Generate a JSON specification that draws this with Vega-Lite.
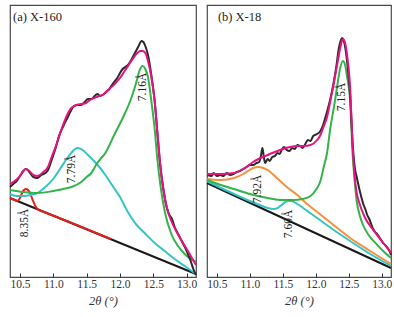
{
  "$schema": "https://vega.github.io/schema/vega-lite/v6.json",
  "padding": {"left": 5, "top": 4, "right": 3, "bottom": 0},
  "bounds": "flush",
  "spacing": 11,
  "datasets": {
    "a": [
      {"s": "baseline", "x": 10.35, "y": 79}, {"s": "baseline", "x": 13.14, "y": 3},
      {"s": "red", "x": 10.35, "y": 79}, {"s": "red", "x": 10.42, "y": 77}, {"s": "red", "x": 10.46, "y": 76}, {"s": "red", "x": 10.5, "y": 79}, {"s": "red", "x": 10.53, "y": 84}, {"s": "red", "x": 10.56, "y": 87}, {"s": "red", "x": 10.59, "y": 88}, {"s": "red", "x": 10.62, "y": 87}, {"s": "red", "x": 10.65, "y": 84}, {"s": "red", "x": 10.69, "y": 77}, {"s": "red", "x": 10.73, "y": 71}, {"s": "red", "x": 10.78, "y": 67}, {"s": "red", "x": 10.82, "y": 66}, {"s": "red", "x": 11.86, "y": 38},
      {"s": "cyan", "x": 10.35, "y": 83}, {"s": "cyan", "x": 10.45, "y": 81}, {"s": "cyan", "x": 10.56, "y": 81}, {"s": "cyan", "x": 10.66, "y": 82}, {"s": "cyan", "x": 10.76, "y": 84}, {"s": "cyan", "x": 10.88, "y": 90}, {"s": "cyan", "x": 11.01, "y": 99}, {"s": "cyan", "x": 11.1, "y": 108}, {"s": "cyan", "x": 11.2, "y": 118}, {"s": "cyan", "x": 11.28, "y": 125}, {"s": "cyan", "x": 11.36, "y": 129}, {"s": "cyan", "x": 11.44, "y": 127}, {"s": "cyan", "x": 11.52, "y": 122}, {"s": "cyan", "x": 11.61, "y": 116}, {"s": "cyan", "x": 11.69, "y": 110}, {"s": "cyan", "x": 11.77, "y": 103}, {"s": "cyan", "x": 11.85, "y": 95}, {"s": "cyan", "x": 11.92, "y": 88}, {"s": "cyan", "x": 12.0, "y": 80}, {"s": "cyan", "x": 12.11, "y": 66}, {"s": "cyan", "x": 12.25, "y": 52}, {"s": "cyan", "x": 12.37, "y": 44}, {"s": "cyan", "x": 12.52, "y": 34}, {"s": "cyan", "x": 12.67, "y": 26}, {"s": "cyan", "x": 12.82, "y": 18}, {"s": "cyan", "x": 12.97, "y": 11}, {"s": "cyan", "x": 13.14, "y": 3},
      {"s": "green", "x": 10.35, "y": 87}, {"s": "green", "x": 10.55, "y": 85}, {"s": "green", "x": 10.76, "y": 84}, {"s": "green", "x": 11.0, "y": 86}, {"s": "green", "x": 11.15, "y": 88}, {"s": "green", "x": 11.27, "y": 90}, {"s": "green", "x": 11.42, "y": 95}, {"s": "green", "x": 11.5, "y": 100}, {"s": "green", "x": 11.57, "y": 104}, {"s": "green", "x": 11.65, "y": 113}, {"s": "green", "x": 11.72, "y": 119}, {"s": "green", "x": 11.77, "y": 123}, {"s": "green", "x": 11.92, "y": 143}, {"s": "green", "x": 12.07, "y": 163}, {"s": "green", "x": 12.17, "y": 179}, {"s": "green", "x": 12.25, "y": 196}, {"s": "green", "x": 12.29, "y": 206}, {"s": "green", "x": 12.34, "y": 211}, {"s": "green", "x": 12.38, "y": 208}, {"s": "green", "x": 12.42, "y": 200}, {"s": "green", "x": 12.47, "y": 176}, {"s": "green", "x": 12.52, "y": 148}, {"s": "green", "x": 12.56, "y": 118}, {"s": "green", "x": 12.61, "y": 90}, {"s": "green", "x": 12.67, "y": 66}, {"s": "green", "x": 12.77, "y": 43}, {"s": "green", "x": 12.87, "y": 31}, {"s": "green", "x": 12.97, "y": 23}, {"s": "green", "x": 13.14, "y": 15},
      {"s": "exp", "x": 10.35, "y": 90}, {"s": "exp", "x": 10.4, "y": 93}, {"s": "exp", "x": 10.45, "y": 96}, {"s": "exp", "x": 10.5, "y": 101}, {"s": "exp", "x": 10.55, "y": 106}, {"s": "exp", "x": 10.59, "y": 108}, {"s": "exp", "x": 10.64, "y": 105}, {"s": "exp", "x": 10.7, "y": 100}, {"s": "exp", "x": 10.76, "y": 99}, {"s": "exp", "x": 10.82, "y": 102}, {"s": "exp", "x": 10.88, "y": 104}, {"s": "exp", "x": 10.92, "y": 107}, {"s": "exp", "x": 10.97, "y": 116}, {"s": "exp", "x": 11.03, "y": 128}, {"s": "exp", "x": 11.09, "y": 142}, {"s": "exp", "x": 11.15, "y": 151}, {"s": "exp", "x": 11.21, "y": 159}, {"s": "exp", "x": 11.27, "y": 167}, {"s": "exp", "x": 11.31, "y": 171}, {"s": "exp", "x": 11.36, "y": 172}, {"s": "exp", "x": 11.42, "y": 172}, {"s": "exp", "x": 11.47, "y": 175}, {"s": "exp", "x": 11.52, "y": 178}, {"s": "exp", "x": 11.57, "y": 178}, {"s": "exp", "x": 11.62, "y": 181}, {"s": "exp", "x": 11.66, "y": 183}, {"s": "exp", "x": 11.7, "y": 181}, {"s": "exp", "x": 11.74, "y": 182}, {"s": "exp", "x": 11.79, "y": 185}, {"s": "exp", "x": 11.84, "y": 188}, {"s": "exp", "x": 11.9, "y": 194}, {"s": "exp", "x": 11.96, "y": 199}, {"s": "exp", "x": 12.0, "y": 204}, {"s": "exp", "x": 12.04, "y": 208}, {"s": "exp", "x": 12.08, "y": 210}, {"s": "exp", "x": 12.12, "y": 212}, {"s": "exp", "x": 12.16, "y": 216}, {"s": "exp", "x": 12.2, "y": 221}, {"s": "exp", "x": 12.24, "y": 226}, {"s": "exp", "x": 12.28, "y": 231}, {"s": "exp", "x": 12.32, "y": 236}, {"s": "exp", "x": 12.35, "y": 235}, {"s": "exp", "x": 12.38, "y": 231}, {"s": "exp", "x": 12.42, "y": 222}, {"s": "exp", "x": 12.47, "y": 202}, {"s": "exp", "x": 12.52, "y": 176}, {"s": "exp", "x": 12.56, "y": 145}, {"s": "exp", "x": 12.6, "y": 114}, {"s": "exp", "x": 12.65, "y": 88}, {"s": "exp", "x": 12.7, "y": 70}, {"s": "exp", "x": 12.74, "y": 62}, {"s": "exp", "x": 12.78, "y": 58}, {"s": "exp", "x": 12.82, "y": 50}, {"s": "exp", "x": 12.88, "y": 42}, {"s": "exp", "x": 12.94, "y": 34}, {"s": "exp", "x": 13.0, "y": 26}, {"s": "exp", "x": 13.06, "y": 16}, {"s": "exp", "x": 13.1, "y": 8}, {"s": "exp", "x": 13.14, "y": 2},
      {"s": "fit", "x": 10.35, "y": 93}, {"s": "fit", "x": 10.42, "y": 96}, {"s": "fit", "x": 10.5, "y": 101}, {"s": "fit", "x": 10.55, "y": 106}, {"s": "fit", "x": 10.59, "y": 108}, {"s": "fit", "x": 10.64, "y": 106}, {"s": "fit", "x": 10.7, "y": 102}, {"s": "fit", "x": 10.76, "y": 101}, {"s": "fit", "x": 10.85, "y": 105}, {"s": "fit", "x": 10.92, "y": 110}, {"s": "fit", "x": 10.97, "y": 119}, {"s": "fit", "x": 11.05, "y": 133}, {"s": "fit", "x": 11.13, "y": 149}, {"s": "fit", "x": 11.2, "y": 161}, {"s": "fit", "x": 11.27, "y": 169}, {"s": "fit", "x": 11.35, "y": 172}, {"s": "fit", "x": 11.42, "y": 173}, {"s": "fit", "x": 11.49, "y": 174}, {"s": "fit", "x": 11.55, "y": 177}, {"s": "fit", "x": 11.61, "y": 179}, {"s": "fit", "x": 11.69, "y": 181}, {"s": "fit", "x": 11.76, "y": 183}, {"s": "fit", "x": 11.84, "y": 188}, {"s": "fit", "x": 11.92, "y": 193}, {"s": "fit", "x": 12.0, "y": 199}, {"s": "fit", "x": 12.07, "y": 206}, {"s": "fit", "x": 12.17, "y": 216}, {"s": "fit", "x": 12.26, "y": 224}, {"s": "fit", "x": 12.3, "y": 226}, {"s": "fit", "x": 12.34, "y": 226}, {"s": "fit", "x": 12.38, "y": 224}, {"s": "fit", "x": 12.42, "y": 216}, {"s": "fit", "x": 12.47, "y": 200}, {"s": "fit", "x": 12.52, "y": 176}, {"s": "fit", "x": 12.56, "y": 145}, {"s": "fit", "x": 12.6, "y": 115}, {"s": "fit", "x": 12.65, "y": 88}, {"s": "fit", "x": 12.7, "y": 70}, {"s": "fit", "x": 12.77, "y": 56}, {"s": "fit", "x": 12.85, "y": 45}, {"s": "fit", "x": 12.92, "y": 37}, {"s": "fit", "x": 13.0, "y": 28}, {"s": "fit", "x": 13.07, "y": 20}, {"s": "fit", "x": 13.14, "y": 12}
    ],
    "b": [
      {"s": "baseline", "x": 10.35, "y": 94}, {"s": "baseline", "x": 13.14, "y": 9},
      {"s": "cyan", "x": 10.35, "y": 96}, {"s": "cyan", "x": 10.5, "y": 91}, {"s": "cyan", "x": 10.76, "y": 83}, {"s": "cyan", "x": 11.0, "y": 76}, {"s": "cyan", "x": 11.15, "y": 72}, {"s": "cyan", "x": 11.27, "y": 69}, {"s": "cyan", "x": 11.36, "y": 68}, {"s": "cyan", "x": 11.42, "y": 69}, {"s": "cyan", "x": 11.48, "y": 72}, {"s": "cyan", "x": 11.54, "y": 75}, {"s": "cyan", "x": 11.58, "y": 76}, {"s": "cyan", "x": 11.63, "y": 76}, {"s": "cyan", "x": 11.72, "y": 73}, {"s": "cyan", "x": 11.85, "y": 67}, {"s": "cyan", "x": 12.02, "y": 59}, {"s": "cyan", "x": 12.25, "y": 48}, {"s": "cyan", "x": 12.52, "y": 36}, {"s": "cyan", "x": 12.8, "y": 24}, {"s": "cyan", "x": 13.14, "y": 11},
      {"s": "orange", "x": 10.35, "y": 98}, {"s": "orange", "x": 10.56, "y": 97}, {"s": "orange", "x": 10.76, "y": 99}, {"s": "orange", "x": 10.9, "y": 103}, {"s": "orange", "x": 10.97, "y": 106}, {"s": "orange", "x": 11.05, "y": 109}, {"s": "orange", "x": 11.13, "y": 110}, {"s": "orange", "x": 11.2, "y": 109}, {"s": "orange", "x": 11.27, "y": 107}, {"s": "orange", "x": 11.36, "y": 102}, {"s": "orange", "x": 11.46, "y": 96}, {"s": "orange", "x": 11.58, "y": 89}, {"s": "orange", "x": 11.72, "y": 82}, {"s": "orange", "x": 11.85, "y": 74}, {"s": "orange", "x": 12.02, "y": 65}, {"s": "orange", "x": 12.25, "y": 53}, {"s": "orange", "x": 12.52, "y": 39}, {"s": "orange", "x": 12.8, "y": 27}, {"s": "orange", "x": 13.14, "y": 13},
      {"s": "green", "x": 10.35, "y": 97}, {"s": "green", "x": 10.56, "y": 92}, {"s": "green", "x": 10.76, "y": 88}, {"s": "green", "x": 11.0, "y": 83}, {"s": "green", "x": 11.27, "y": 79}, {"s": "green", "x": 11.5, "y": 77}, {"s": "green", "x": 11.66, "y": 77}, {"s": "green", "x": 11.8, "y": 78}, {"s": "green", "x": 11.92, "y": 81}, {"s": "green", "x": 12.0, "y": 87}, {"s": "green", "x": 12.07, "y": 96}, {"s": "green", "x": 12.12, "y": 110}, {"s": "green", "x": 12.17, "y": 124}, {"s": "green", "x": 12.22, "y": 149}, {"s": "green", "x": 12.28, "y": 172}, {"s": "green", "x": 12.32, "y": 189}, {"s": "green", "x": 12.37, "y": 209}, {"s": "green", "x": 12.41, "y": 216}, {"s": "green", "x": 12.44, "y": 213}, {"s": "green", "x": 12.47, "y": 202}, {"s": "green", "x": 12.52, "y": 176}, {"s": "green", "x": 12.56, "y": 121}, {"s": "green", "x": 12.59, "y": 95}, {"s": "green", "x": 12.62, "y": 76}, {"s": "green", "x": 12.66, "y": 63}, {"s": "green", "x": 12.71, "y": 53}, {"s": "green", "x": 12.8, "y": 42}, {"s": "green", "x": 12.92, "y": 33}, {"s": "green", "x": 13.02, "y": 26}, {"s": "green", "x": 13.14, "y": 19},
      {"s": "exp", "x": 10.36, "y": 102}, {"s": "exp", "x": 10.42, "y": 101}, {"s": "exp", "x": 10.45, "y": 104}, {"s": "exp", "x": 10.5, "y": 101}, {"s": "exp", "x": 10.55, "y": 102}, {"s": "exp", "x": 10.6, "y": 101}, {"s": "exp", "x": 10.65, "y": 104}, {"s": "exp", "x": 10.7, "y": 102}, {"s": "exp", "x": 10.75, "y": 103}, {"s": "exp", "x": 10.8, "y": 105}, {"s": "exp", "x": 10.85, "y": 106}, {"s": "exp", "x": 10.9, "y": 108}, {"s": "exp", "x": 10.95, "y": 110}, {"s": "exp", "x": 11.0, "y": 112}, {"s": "exp", "x": 11.05, "y": 112}, {"s": "exp", "x": 11.1, "y": 114}, {"s": "exp", "x": 11.14, "y": 115}, {"s": "exp", "x": 11.17, "y": 122}, {"s": "exp", "x": 11.19, "y": 129}, {"s": "exp", "x": 11.21, "y": 121}, {"s": "exp", "x": 11.23, "y": 114}, {"s": "exp", "x": 11.27, "y": 118}, {"s": "exp", "x": 11.3, "y": 116}, {"s": "exp", "x": 11.34, "y": 120}, {"s": "exp", "x": 11.38, "y": 121}, {"s": "exp", "x": 11.42, "y": 124}, {"s": "exp", "x": 11.45, "y": 123}, {"s": "exp", "x": 11.49, "y": 128}, {"s": "exp", "x": 11.52, "y": 130}, {"s": "exp", "x": 11.56, "y": 127}, {"s": "exp", "x": 11.6, "y": 126}, {"s": "exp", "x": 11.64, "y": 129}, {"s": "exp", "x": 11.68, "y": 128}, {"s": "exp", "x": 11.72, "y": 132}, {"s": "exp", "x": 11.76, "y": 131}, {"s": "exp", "x": 11.8, "y": 129}, {"s": "exp", "x": 11.84, "y": 133}, {"s": "exp", "x": 11.88, "y": 137}, {"s": "exp", "x": 11.92, "y": 136}, {"s": "exp", "x": 11.96, "y": 141}, {"s": "exp", "x": 12.02, "y": 143}, {"s": "exp", "x": 12.07, "y": 146}, {"s": "exp", "x": 12.11, "y": 152}, {"s": "exp", "x": 12.16, "y": 163}, {"s": "exp", "x": 12.22, "y": 178}, {"s": "exp", "x": 12.27, "y": 194}, {"s": "exp", "x": 12.31, "y": 210}, {"s": "exp", "x": 12.35, "y": 229}, {"s": "exp", "x": 12.38, "y": 237}, {"s": "exp", "x": 12.4, "y": 239}, {"s": "exp", "x": 12.42, "y": 237}, {"s": "exp", "x": 12.45, "y": 228}, {"s": "exp", "x": 12.48, "y": 212}, {"s": "exp", "x": 12.52, "y": 182}, {"s": "exp", "x": 12.56, "y": 132}, {"s": "exp", "x": 12.59, "y": 110}, {"s": "exp", "x": 12.62, "y": 100}, {"s": "exp", "x": 12.66, "y": 88}, {"s": "exp", "x": 12.69, "y": 80}, {"s": "exp", "x": 12.72, "y": 73}, {"s": "exp", "x": 12.75, "y": 68}, {"s": "exp", "x": 12.78, "y": 62}, {"s": "exp", "x": 12.81, "y": 58}, {"s": "exp", "x": 12.84, "y": 53}, {"s": "exp", "x": 12.87, "y": 48}, {"s": "exp", "x": 12.9, "y": 45}, {"s": "exp", "x": 12.93, "y": 43}, {"s": "exp", "x": 12.96, "y": 40}, {"s": "exp", "x": 12.99, "y": 37}, {"s": "exp", "x": 13.02, "y": 34}, {"s": "exp", "x": 13.05, "y": 32}, {"s": "exp", "x": 13.08, "y": 30}, {"s": "exp", "x": 13.11, "y": 27}, {"s": "exp", "x": 13.14, "y": 22},
      {"s": "fit", "x": 10.35, "y": 103}, {"s": "fit", "x": 10.56, "y": 103}, {"s": "fit", "x": 10.76, "y": 104}, {"s": "fit", "x": 10.9, "y": 108}, {"s": "fit", "x": 10.97, "y": 111}, {"s": "fit", "x": 11.05, "y": 115}, {"s": "fit", "x": 11.13, "y": 118}, {"s": "fit", "x": 11.2, "y": 120}, {"s": "fit", "x": 11.27, "y": 122}, {"s": "fit", "x": 11.38, "y": 125}, {"s": "fit", "x": 11.5, "y": 128}, {"s": "fit", "x": 11.61, "y": 130}, {"s": "fit", "x": 11.72, "y": 131}, {"s": "fit", "x": 11.82, "y": 131}, {"s": "fit", "x": 11.92, "y": 132}, {"s": "fit", "x": 12.02, "y": 137}, {"s": "fit", "x": 12.07, "y": 142}, {"s": "fit", "x": 12.11, "y": 149}, {"s": "fit", "x": 12.17, "y": 160}, {"s": "fit", "x": 12.22, "y": 176}, {"s": "fit", "x": 12.27, "y": 193}, {"s": "fit", "x": 12.32, "y": 211}, {"s": "fit", "x": 12.37, "y": 229}, {"s": "fit", "x": 12.41, "y": 238}, {"s": "fit", "x": 12.44, "y": 235}, {"s": "fit", "x": 12.47, "y": 224}, {"s": "fit", "x": 12.52, "y": 190}, {"s": "fit", "x": 12.56, "y": 128}, {"s": "fit", "x": 12.59, "y": 100}, {"s": "fit", "x": 12.62, "y": 84}, {"s": "fit", "x": 12.66, "y": 74}, {"s": "fit", "x": 12.74, "y": 60}, {"s": "fit", "x": 12.86, "y": 48}, {"s": "fit", "x": 13.0, "y": 36}, {"s": "fit", "x": 13.14, "y": 24}
    ],
    "la": [
      {"t": "7.16Å", "x": 12.34, "y": 190, "k": "peak"},
      {"t": "7.79Å", "x": 11.28, "y": 108, "k": "peak"},
      {"t": "8.35Å", "x": 10.575, "y": 54, "k": "peak"},
      {"t": "(a) X-160", "x": 10.395, "y": 256, "k": "title"}
    ],
    "lb": [
      {"t": "7.15Å", "x": 12.4, "y": 180, "k": "peak"},
      {"t": "7.92Å", "x": 11.13, "y": 88, "k": "peak"},
      {"t": "7.60Å", "x": 11.6, "y": 53, "k": "peak"},
      {"t": "(b) X-18", "x": 10.515, "y": 256, "k": "title"}
    ]
  },
  "hconcat": [
    {
      "width": 186, "height": 272,
      "encoding": {
        "x": {"field": "x", "type": "quantitative", "scale": {"domain": [10.35, 13.14], "nice": false, "zero": false}, "axis": {"title": "2θ (°)", "values": [10.5, 11, 11.5, 12, 12.5, 13], "format": ".1f", "labelOverlap": false, "labelFlush": false, "labelBound": false}},
        "y": {"field": "y", "type": "quantitative", "scale": {"domain": [0, 272], "nice": false}, "axis": null}
      },
      "layer": [
        {
          "data": {"name": "a"},
          "mark": {"type": "line", "interpolate": "monotone"},
          "encoding": {
            "color": {"field": "s", "type": "nominal", "scale": {"domain": ["baseline", "red", "orange", "cyan", "green", "exp", "fit"], "range": ["#1a1a1a", "#e3211c", "#f5913b", "#35c4c4", "#33b34a", "#2a2a2a", "#e5127f"]}, "legend": null},
            "strokeWidth": {"field": "s", "type": "nominal", "scale": {"domain": ["baseline", "red", "orange", "cyan", "green", "exp", "fit"], "range": [2, 2, 1.3, 1.1, 1.1, 0.9, 1.5]}, "legend": null}
          }
        },
        {
          "data": {"name": "la"},
          "transform": [{"filter": "datum.k === 'peak'"}],
          "mark": {"type": "text", "angle": 270, "align": "center", "baseline": "middle", "fontSize": 11.5, "color": "#222"},
          "encoding": {"text": {"field": "t"}}
        },
        {
          "data": {"name": "la"},
          "transform": [{"filter": "datum.k === 'title'"}],
          "mark": {"type": "text", "align": "left", "baseline": "alphabetic", "fontSize": 12.5, "color": "#222"},
          "encoding": {"text": {"field": "t"}}
        }
      ]
    },
    {
      "width": 184, "height": 272,
      "encoding": {
        "x": {"field": "x", "type": "quantitative", "scale": {"domain": [10.35, 13.14], "nice": false, "zero": false}, "axis": {"title": "2θ (°)", "values": [10.5, 11, 11.5, 12, 12.5, 13], "format": ".1f", "labelOverlap": false, "labelFlush": false, "labelBound": false}},
        "y": {"field": "y", "type": "quantitative", "scale": {"domain": [0, 272], "nice": false}, "axis": null}
      },
      "layer": [
        {
          "data": {"name": "b"},
          "mark": {"type": "line", "interpolate": "monotone"},
          "encoding": {
            "color": {"field": "s", "type": "nominal", "scale": {"domain": ["baseline", "red", "orange", "cyan", "green", "exp", "fit"], "range": ["#1a1a1a", "#e3211c", "#f5913b", "#35c4c4", "#33b34a", "#2a2a2a", "#e5127f"]}, "legend": null},
            "strokeWidth": {"field": "s", "type": "nominal", "scale": {"domain": ["baseline", "red", "orange", "cyan", "green", "exp", "fit"], "range": [2, 2, 1.3, 1.1, 1.1, 0.9, 1.5]}, "legend": null}
          }
        },
        {
          "data": {"name": "lb"},
          "transform": [{"filter": "datum.k === 'peak'"}],
          "mark": {"type": "text", "angle": 270, "align": "center", "baseline": "middle", "fontSize": 11.5, "color": "#222"},
          "encoding": {"text": {"field": "t"}}
        },
        {
          "data": {"name": "lb"},
          "transform": [{"filter": "datum.k === 'title'"}],
          "mark": {"type": "text", "align": "left", "baseline": "alphabetic", "fontSize": 12.5, "color": "#222"},
          "encoding": {"text": {"field": "t"}}
        }
      ]
    }
  ],
  "config": {
    "view": {"stroke": "#4a4a4a", "strokeWidth": 1.2},
    "text": {"font": "Liberation Serif"},
    "axis": {"labelFont": "Liberation Serif", "labelFontSize": 11.5, "labelColor": "#333", "titleFont": "Liberation Serif", "titleFontSize": 12.5, "titleFontWeight": "normal", "titleFontStyle": "italic", "titleColor": "#333", "domain": false, "grid": false, "tickSize": -4, "tickColor": "#333", "labelPadding": 5, "titlePadding": 5}
  }
}
